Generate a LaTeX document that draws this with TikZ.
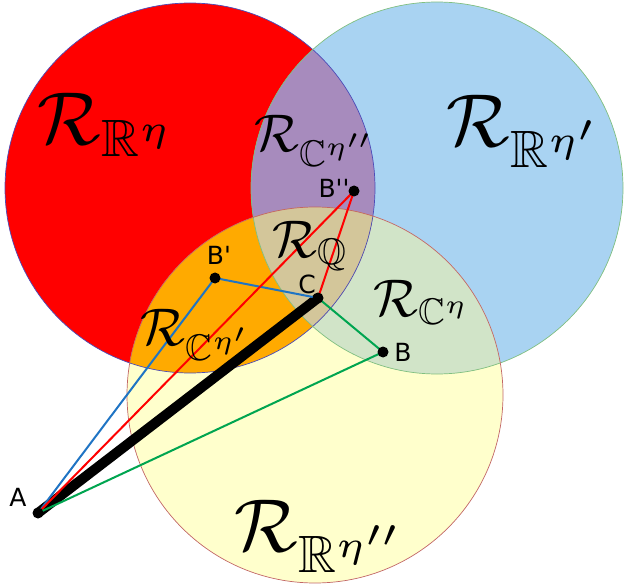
\documentclass[tikz,border=0pt]{standalone}
\usepackage{amsmath,amssymb}
\usepackage{fontspec}
\newfontfamily\ptfont{DejaVu Sans}[Ligatures=TeXOff]
\usepackage{xcolor}
\definecolor{regR}{HTML}{FF0000}
\definecolor{regB}{HTML}{A9D3F2}
\definecolor{regY}{HTML}{FFFFCC}
\definecolor{regRB}{HTML}{A78BBD}
\definecolor{regRY}{HTML}{FFAA00}
\definecolor{regBY}{HTML}{D1E4C8}
\definecolor{regRBY}{HTML}{D3C69A}
\definecolor{lnB}{HTML}{1F74C4}
\definecolor{lnG}{HTML}{00A550}
\tikzset{reg/.style={inner sep=0pt,scale=5.3},
  bigreg/.style={inner sep=0pt,scale=7.5},
  ptl/.style={inner sep=0pt,font=\ptfont\fontsize{25}{29}\selectfont},
  dot/.style={circle,fill=black,inner sep=0pt,minimum size=11pt},
  seg/.style={line width=2pt,line cap=round},
  thickseg/.style={line width=10pt,line cap=round},
  rim/.style={line width=0.7pt}}

\begin{document}
\begin{tikzpicture}[x=1pt,y=-1pt]
\useasboundingbox (0,0) rectangle (624,588);
% the three regions
\coordinate (cR) at (190,188);
\coordinate (cB) at (437,188);
\coordinate (cY) at (315,395);
\fill[regR] (cR) circle (185pt);
\fill[regB] (cB) circle (186pt);
\fill[regY] (cY) circle (188pt);
\begin{scope}
  \clip (cB) circle (186pt);
  \fill[regBY] (cY) circle (188pt);
\end{scope}
\begin{scope}
  \clip (cR) circle (185pt);
  \fill[regRB] (cB) circle (186pt);
  \fill[regRY] (cY) circle (188pt);
  \clip (cB) circle (186pt);
  \fill[regRBY] (cY) circle (188pt);
\end{scope}
\draw[rim,blue!60!black!70] (cR) circle (185pt);
\draw[rim,green!50!black!50] (cB) circle (186pt);
\draw[rim,red!60!black!60] (cY) circle (188pt);
% points and paths
\coordinate (A) at (38,513);
\coordinate (B) at (383,352);
\coordinate (B1) at (215,278);
\coordinate (B2) at (354,191);
\coordinate (C) at (318,298);
\draw[thickseg] (A) -- (C);
\draw[seg,lnB] (A) -- (B1) -- (C);
\draw[seg,red] (A) -- (B2) -- (C);
\draw[seg,lnG] (A) -- (B) -- (C);
\foreach \p in {A,B,B1,B2,C} \node[dot] (d\p) at (\p) {};
\node[ptl] (lA) at (18,497) {A};
\node[ptl] (lB) at (403,352) {B};
\node[ptl] (lB1) at (219,255) {B'};
\node[ptl] (lB2) at (334,188) {B''};
\node[ptl] (lC) at (307,284) {C};
% region names
\node[bigreg] (rRe) at (107,125) {$\mathcal{R}_{\mathbb{R}^{\eta}}$};
\node[bigreg] (rRe1) at (526,131) {$\mathcal{R}_{\mathbb{R}^{\eta'}}$};
\node[bigreg] (rRe2) at (322,536) {$\mathcal{R}_{\mathbb{R}^{\eta''}}$};
\node[reg] (rCe2) at (316,141) {$\mathcal{R}_{\mathbb{C}^{\eta''}}$};
\node[reg] (rQ) at (311,246) {$\mathcal{R}_{\mathbb{Q}}$};
\node[reg] (rCe) at (422,302) {$\mathcal{R}_{\mathbb{C}^{\eta}}$};
\node[reg] (rCe1) at (197,335) {$\mathcal{R}_{\mathbb{C}^{\eta'}}$};
\end{tikzpicture}
\end{document}
